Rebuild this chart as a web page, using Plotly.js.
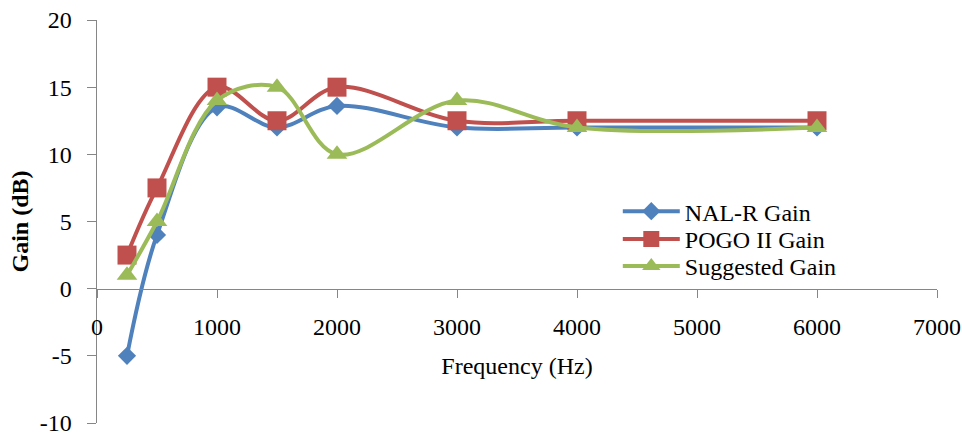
<!DOCTYPE html>
<html>
<head>
<meta charset="utf-8">
<script src="https://cdn.plot.ly/plotly-3.0.1.min.js"></script>
<style>html,body{margin:0;padding:0;background:#fff}#chart{width:962px;height:435px}
#chart svg text{font-family:'Times New Roman','Liberation Serif',serif !important}</style>
</head>
<body>
<div id="chart"></div>
<script>
const frequency = [250, 500, 1000, 1500, 2000, 3000, 4000, 6000];
const nalR = [-5, 4, 13.5, 12, 13.6, 12, 12, 12];
const pogoII = [2.5, 7.5, 15, 12.5, 15, 12.5, 12.5, 12.5];
const suggested = [1, 5, 14, 15, 10, 14, 12, 12];
const seriesNames = ['NAL-R Gain', 'POGO II Gain', 'Suggested Gain'];
const xTicks = [0, 1000, 2000, 3000, 4000, 5000, 6000, 7000];
const yTicks = [-10, -5, 0, 5, 10, 15, 20];

const FONT = 'Times New Roman';
const AX = '#868686';

function tr(y, name, color, symbol, size, leg) {
  return {
    x: frequency, y: y, name: name, type: 'scatter', mode: 'lines+markers',
    legend: leg,
    line: {color: color, width: 4, shape: 'spline', smoothing: 1},
    marker: {color: color, symbol: symbol, size: size}
  };
}
const data = [
  tr(nalR, seriesNames[0], '#4F81BD', 'diamond', 14, 'legend'),
  tr(pogoII, seriesNames[1], '#C0504D', 'square', 19, 'legend2'),
  tr(suggested, seriesNames[2], '#9BBB59', 'triangle-up', 18, 'legend3')
];
function leg(y) {
  return {x: 0.62, y: y, xanchor: 'left', yanchor: 'top', bgcolor: 'rgba(0,0,0,0)',
          font: {family: FONT, size: 24, color: '#000'}, itemwidth: 57};
}
const layout = {
  width: 962, height: 435,
  margin: {l: 97, r: 25, t: 20, b: 12},
  paper_bgcolor: '#fff', plot_bgcolor: '#fff',
  font: {family: FONT, size: 24, color: '#000'},
  showlegend: true,
  legend: leg(0.5805), legend2: leg(0.5115), legend3: leg(0.4445),
  xaxis: {
    range: [0, 7000], tickvals: xTicks, ticktext: xTicks.map(String),
    anchor: 'free', position: 1/3,
    showline: true, linecolor: AX, linewidth: 1.5,
    ticks: 'outside', ticklen: 8, tickcolor: AX, tickwidth: 1,
    showgrid: false, zeroline: false, ticklabelstandoff: 8,
    tickfont: {family: FONT, size: 24, color: '#000'},
    title: {text: 'Frequency (Hz)', font: {family: FONT, size: 24, color: '#000'}, standoff: 18}
  },
  yaxis: {
    range: [-10, 20], tickvals: yTicks, ticktext: yTicks.map(String),
    showline: true, linecolor: AX, linewidth: 1.5,
    ticks: 'outside', ticklen: 9, tickcolor: AX, tickwidth: 1,
    showgrid: false, zeroline: false, ticklabelstandoff: 10,
    ticklabeloverflow: 'allow',
    tickfont: {family: FONT, size: 24, color: '#000'},
    title: {text: '<b>Gain (dB)</b>', font: {family: FONT, size: 24, color: '#000'}, standoff: 4}
  }
};
const cfg = {displayModeBar: false, staticPlot: true};
Plotly.newPlot('chart', data, layout, cfg);
</script>
</body>
</html>
